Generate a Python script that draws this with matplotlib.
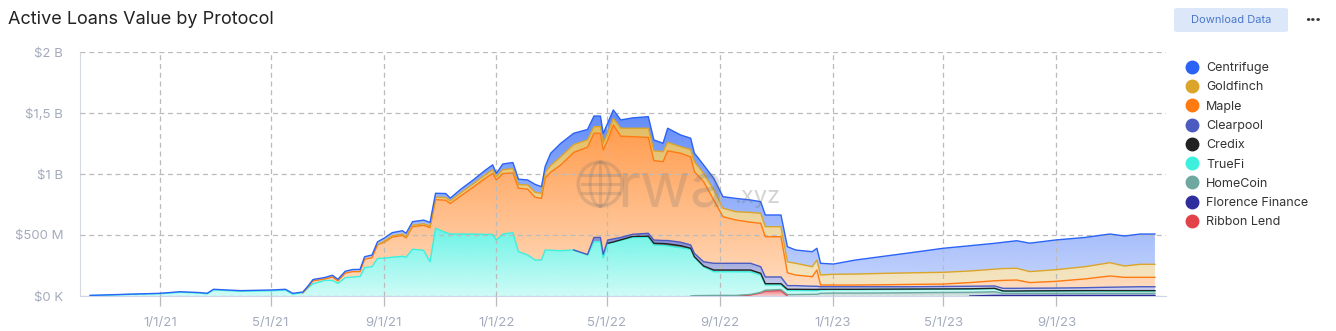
import matplotlib
matplotlib.use('Agg')
import matplotlib.dates as mdates
import matplotlib.pyplot as plt
import numpy as np
import pandas as pd
from matplotlib.colors import to_rgb
from matplotlib.lines import Line2D
from matplotlib.patches import Ellipse, FancyBboxPatch

plt.rcParams['font.family'] = ['Inter', 'DejaVu Sans']

# active loans, $M
dates = [
    '2020-10-17', '2020-11-08', '2020-11-29', '2021-01-01', '2021-01-23', '2021-02-13', '2021-02-21',
    '2021-02-28', '2021-03-29', '2021-05-01', '2021-05-17', '2021-05-25', '2021-06-05', '2021-06-11',
    '2021-06-16', '2021-06-29', '2021-07-07', '2021-07-13', '2021-07-21', '2021-07-29', '2021-08-06',
    '2021-08-11', '2021-08-19', '2021-08-25', '2021-09-01', '2021-09-10', '2021-09-21', '2021-09-25',
    '2021-10-02', '2021-10-14', '2021-10-21', '2021-10-27', '2021-11-07', '2021-11-12', '2021-11-23',
    '2021-12-07', '2021-12-20', '2021-12-28', '2022-01-01', '2022-01-08', '2022-01-19', '2022-01-25',
    '2022-02-04', '2022-02-12', '2022-02-19', '2022-02-23', '2022-03-01', '2022-03-12', '2022-03-26',
    '2022-04-10', '2022-04-17', '2022-04-24', '2022-04-27', '2022-05-02', '2022-05-08', '2022-05-16',
    '2022-05-29', '2022-06-15', '2022-06-21', '2022-07-01', '2022-07-06', '2022-07-20', '2022-07-31',
    '2022-08-04', '2022-08-14', '2022-08-25', '2022-09-04', '2022-09-18', '2022-10-04', '2022-10-15',
    '2022-10-20', '2022-11-06', '2022-11-13', '2022-11-22', '2022-12-10', '2022-12-15', '2022-12-19',
    '2023-01-02', '2023-01-26', '2023-02-22', '2023-03-27', '2023-05-01', '2023-05-30', '2023-06-26',
    '2023-07-05', '2023-07-20', '2023-08-03', '2023-08-31', '2023-10-02', '2023-10-29', '2023-11-14',
    '2023-12-01', '2023-12-17',
]

ribbon_lend = [0] * 68 + [8, 25, 40, 45] + [0] * 21
florence_finance = [0] * 83 + [5] * 10
homecoin = [0] * 63 + [3, 4, 5, 5, 5, 5, 5, 8, 8, 12, 12, 14, 14, 22,
                       24, 24, 25, 27, 29, 30, 30, 17, 17, 17, 17, 17, 17, 17, 17, 17]
truefi = [
    4, 8, 13, 19, 31, 24, 18, 50, 39, 43, 48, 15, 26, 70, 100, 128, 128, 104, 150, 155, 160,
    232, 240, 308, 310, 318, 325, 318, 383, 375, 280, 555, 520, 508, 508, 508, 505, 505, 459, 508,
    519, 363, 336, 295, 295, 377, 375, 371, 377, 336, 445, 445, 312, 432, 440, 455, 480, 481, 418,
    415, 410, 395, 383, 314, 236, 194, 194, 194, 185, 142, 43, 38, 33, 33, 30, 30, 28, 28, 28, 28,
    27, 26, 26, 25, 16, 16, 17, 18, 19, 19, 19, 19, 19,
]
credix = [0] * 54 + [3, 5, 8, 9, 14, 15, 17, 18, 8, 5, 6, 14, 14, 14, 15, 14, 10, 10, 10, 10, 10,
                     10, 5, 3, 3, 3, 3, 3, 3, 3, 3, 3, 3, 3, 3, 3, 3, 3, 3]
clearpool = [0] * 49 + [4, 35, 35, 30, 27, 25, 20, 18, 24, 27, 25, 28, 28, 27, 28, 35, 55, 55, 55,
                        55, 54, 55, 55, 30, 30, 26, 26, 21, 21, 21, 20, 19, 20, 21, 19, 22, 22, 22,
                        22, 24, 28, 30, 32, 32]
maple = [
    0, 0, 0, 0, 0, 0, 0, 0, 0, 0, 0, 0, 0, 8, 25, 12, 28, 20, 38, 45, 40, 70, 74, 112, 130, 165,
    172, 158, 185, 205, 280, 235, 265, 250, 310, 385, 460, 500, 492, 495, 490, 520, 540, 515, 505,
    590, 640, 703, 800, 880, 854, 854, 855, 820, 934, 830, 800, 786, 651, 646, 735, 729, 722, 669,
    656, 519, 382, 355, 337, 356, 330, 330, 105, 87, 78, 133, 14, 14, 14, 16, 19, 20, 30, 43, 65,
    68, 46, 55, 72, 92, 79, 77, 77,
]
goldfinch = [0] * 24 + [
    8, 10, 10, 10, 12, 12, 13, 20, 22, 22, 25, 27, 28, 30, 27, 32, 35, 30, 35, 40, 41, 45, 55, 68,
    65, 60, 54, 54, 55, 60, 54, 65, 69, 75, 80, 82, 70, 54, 60, 82, 68, 82, 70, 68, 80, 82, 82, 82,
    90, 96, 82, 82, 82, 88, 90, 93, 95, 96, 95, 95, 97, 96, 90, 95, 100, 109, 93, 107, 107,
]
centrifuge = [
    1, 2, 2, 3, 4, 4, 4, 5, 5, 6, 7, 7, 7, 8, 10, 12, 14, 13, 15, 17, 18, 20, 22, 24, 25, 26, 28,
    28, 29, 30, 30, 32, 33, 22, 30, 32, 38, 40, 27, 47, 50, 45, 40, 65, 55, 50, 100, 110, 92, 85,
    87, 87, 80, 80, 69, 68, 85, 95, 89, 69, 115, 96, 93, 70, 69, 96, 94, 109, 102, 95, 96, 96, 124,
    109, 123, 96, 96, 84, 115, 137, 165, 197, 207, 212, 215, 226, 233, 244, 240, 235, 246, 248, 248,
]

# bottom to top, as stacked on the chart
stack = [
    ('Ribbon Lend', ribbon_lend, '#e2434b'),
    ('Florence Finance', florence_finance, '#2f2c9e'),
    ('HomeCoin', homecoin, '#6fa8a0'),
    ('TrueFi', truefi, '#3cf0de'),
    ('Credix', credix, '#222222'),
    ('Clearpool', clearpool, '#4c5bc0'),
    ('Maple', maple, '#ff7a10'),
    ('Goldfinch', goldfinch, '#daa52a'),
    ('Centrifuge', centrifuge, '#2b63f5'),
]
legend_order = ['Centrifuge', 'Goldfinch', 'Maple', 'Clearpool', 'Credix', 'TrueFi',
                'HomeCoin', 'Florence Finance', 'Ribbon Lend']


def gradient_fill(ax, x, lo, hi, color):
    poly = ax.fill_between(x, lo, hi, facecolor='none', edgecolor='none')
    rgba = np.zeros((256, 1, 4))
    rgba[..., :3] = to_rgb(color)
    rgba[..., 3] = np.linspace(0.25, 0.75, 256)[:, None]
    im = ax.imshow(rgba, aspect='auto', origin='lower', interpolation='bilinear',
                   extent=[x[0], x[-1], 0, hi.max()], zorder=1)
    im.set_clip_path(poly.get_paths()[0], transform=ax.transData)


fig = plt.figure(figsize=(13.36, 3.31), dpi=100)
ax = fig.add_axes([80 / 1336, 35 / 331, 1086 / 1336, 244 / 331])

x = mdates.date2num(pd.to_datetime(dates))
cum = np.zeros(len(x))
for name, vals, color in stack:
    vals = np.array(vals, dtype=float)
    hi = cum + vals
    if vals.max() > 0:
        gradient_fill(ax, x, cum, hi, color)
        show = (vals > 0) | (np.r_[vals[1:], 0] > 0) | (np.r_[0, vals[:-1]] > 0)
        ax.plot(x, np.where(show, hi, np.nan), color=color, lw=1.0, zorder=3)
    cum = hi

ax.set_xlim(mdates.date2num(pd.Timestamp('2020-10-06')), mdates.date2num(pd.Timestamp('2023-12-29')))
ax.set_ylim(0, 2000)

xticks = pd.to_datetime(['2021-01-01', '2021-05-01', '2021-09-01', '2022-01-01', '2022-05-01',
                         '2022-09-01', '2023-01-01', '2023-05-01', '2023-09-01'])
ax.set_xticks(mdates.date2num(xticks))
ax.set_xticklabels([f'{d.month}/{d.day}/{d.strftime("%y")}' for d in xticks])
ax.set_yticks([0, 500, 1000, 1500, 2000])
ax.set_yticklabels(['$0 K', '$500 M', '$1 B', '$1,5 B', '$2 B'])

ax.set_axisbelow(False)
ax.grid(True, color='#bbbbbb', linestyle=(0, (4, 3)), linewidth=0.9, zorder=2)
ax.tick_params(axis='x', length=7, width=0.9, color='#bbbbbb', pad=8, labelsize=9.5, labelcolor='#a3abbc')
ax.tick_params(axis='y', length=0, pad=12, labelsize=9.5, labelcolor='#a3abbc')
for s in ['top', 'right']:
    ax.spines[s].set_visible(False)
ax.spines['left'].set_color('#d5d9e0')
ax.spines['bottom'].set_color('#ccd6eb')

# watermark
wm = '#707070'
ax.add_patch(Ellipse((0.479, 0.459), 44 / 1086, 44 / 244, transform=ax.transAxes,
                     fill=False, ec=wm, lw=2.5, alpha=0.22, zorder=4))
ax.add_patch(Ellipse((0.479, 0.459), 20 / 1086, 44 / 244, transform=ax.transAxes,
                     fill=False, ec=wm, lw=2.2, alpha=0.22, zorder=4))
for dy in (-0.036, 0, 0.036):
    ax.plot([0.462, 0.496], [0.459 + dy, 0.459 + dy], transform=ax.transAxes,
            color=wm, lw=2.2, alpha=0.22, zorder=4)
ax.plot([0.479, 0.479], [0.369, 0.549], transform=ax.transAxes, color=wm, lw=2.2, alpha=0.22, zorder=4)
ax.text(0.495, 0.365, 'rwa', transform=ax.transAxes, fontsize=44, color=wm, alpha=0.22,
        va='baseline', ha='left', zorder=4)
ax.text(0.602, 0.38, '.xyz', transform=ax.transAxes, fontsize=17, color=wm, alpha=0.3,
        va='baseline', ha='left', zorder=4)

fig.text(8 / 1336, 1 - 20 / 331, 'Active Loans Value by Protocol', fontsize=13, color='#222222',
         va='center', ha='left')

btn = FancyBboxPatch((1174 / 1336, 1 - 32 / 331), 114 / 1336, 24 / 331, transform=fig.transFigure,
                     boxstyle='round,pad=0,rounding_size=0.004', fc='#dce8fa', ec='none')
fig.patches.append(btn)
fig.text(1231 / 1336, 1 - 20 / 331, 'Download Data', fontsize=8, color='#4a78c9', ha='center', va='center')
fig.text(1313 / 1336, 1 - 19 / 331, '•••', fontsize=8, color='#333333', ha='center', va='center',
         fontweight='bold')

colors = {name: color for name, _, color in stack}
handles = [Line2D([], [], ls='none', marker='o', markersize=9, color=colors[n], label=n) for n in legend_order]
fig.legend(handles=handles, loc='upper left', bbox_to_anchor=(1181 / 1336, 1 - 56 / 331), frameon=False,
           fontsize=9, labelspacing=0.58, handlelength=0.8, handletextpad=0.7, labelcolor='#333333',
           borderpad=0)

fig.savefig('out.png', dpi=100)
